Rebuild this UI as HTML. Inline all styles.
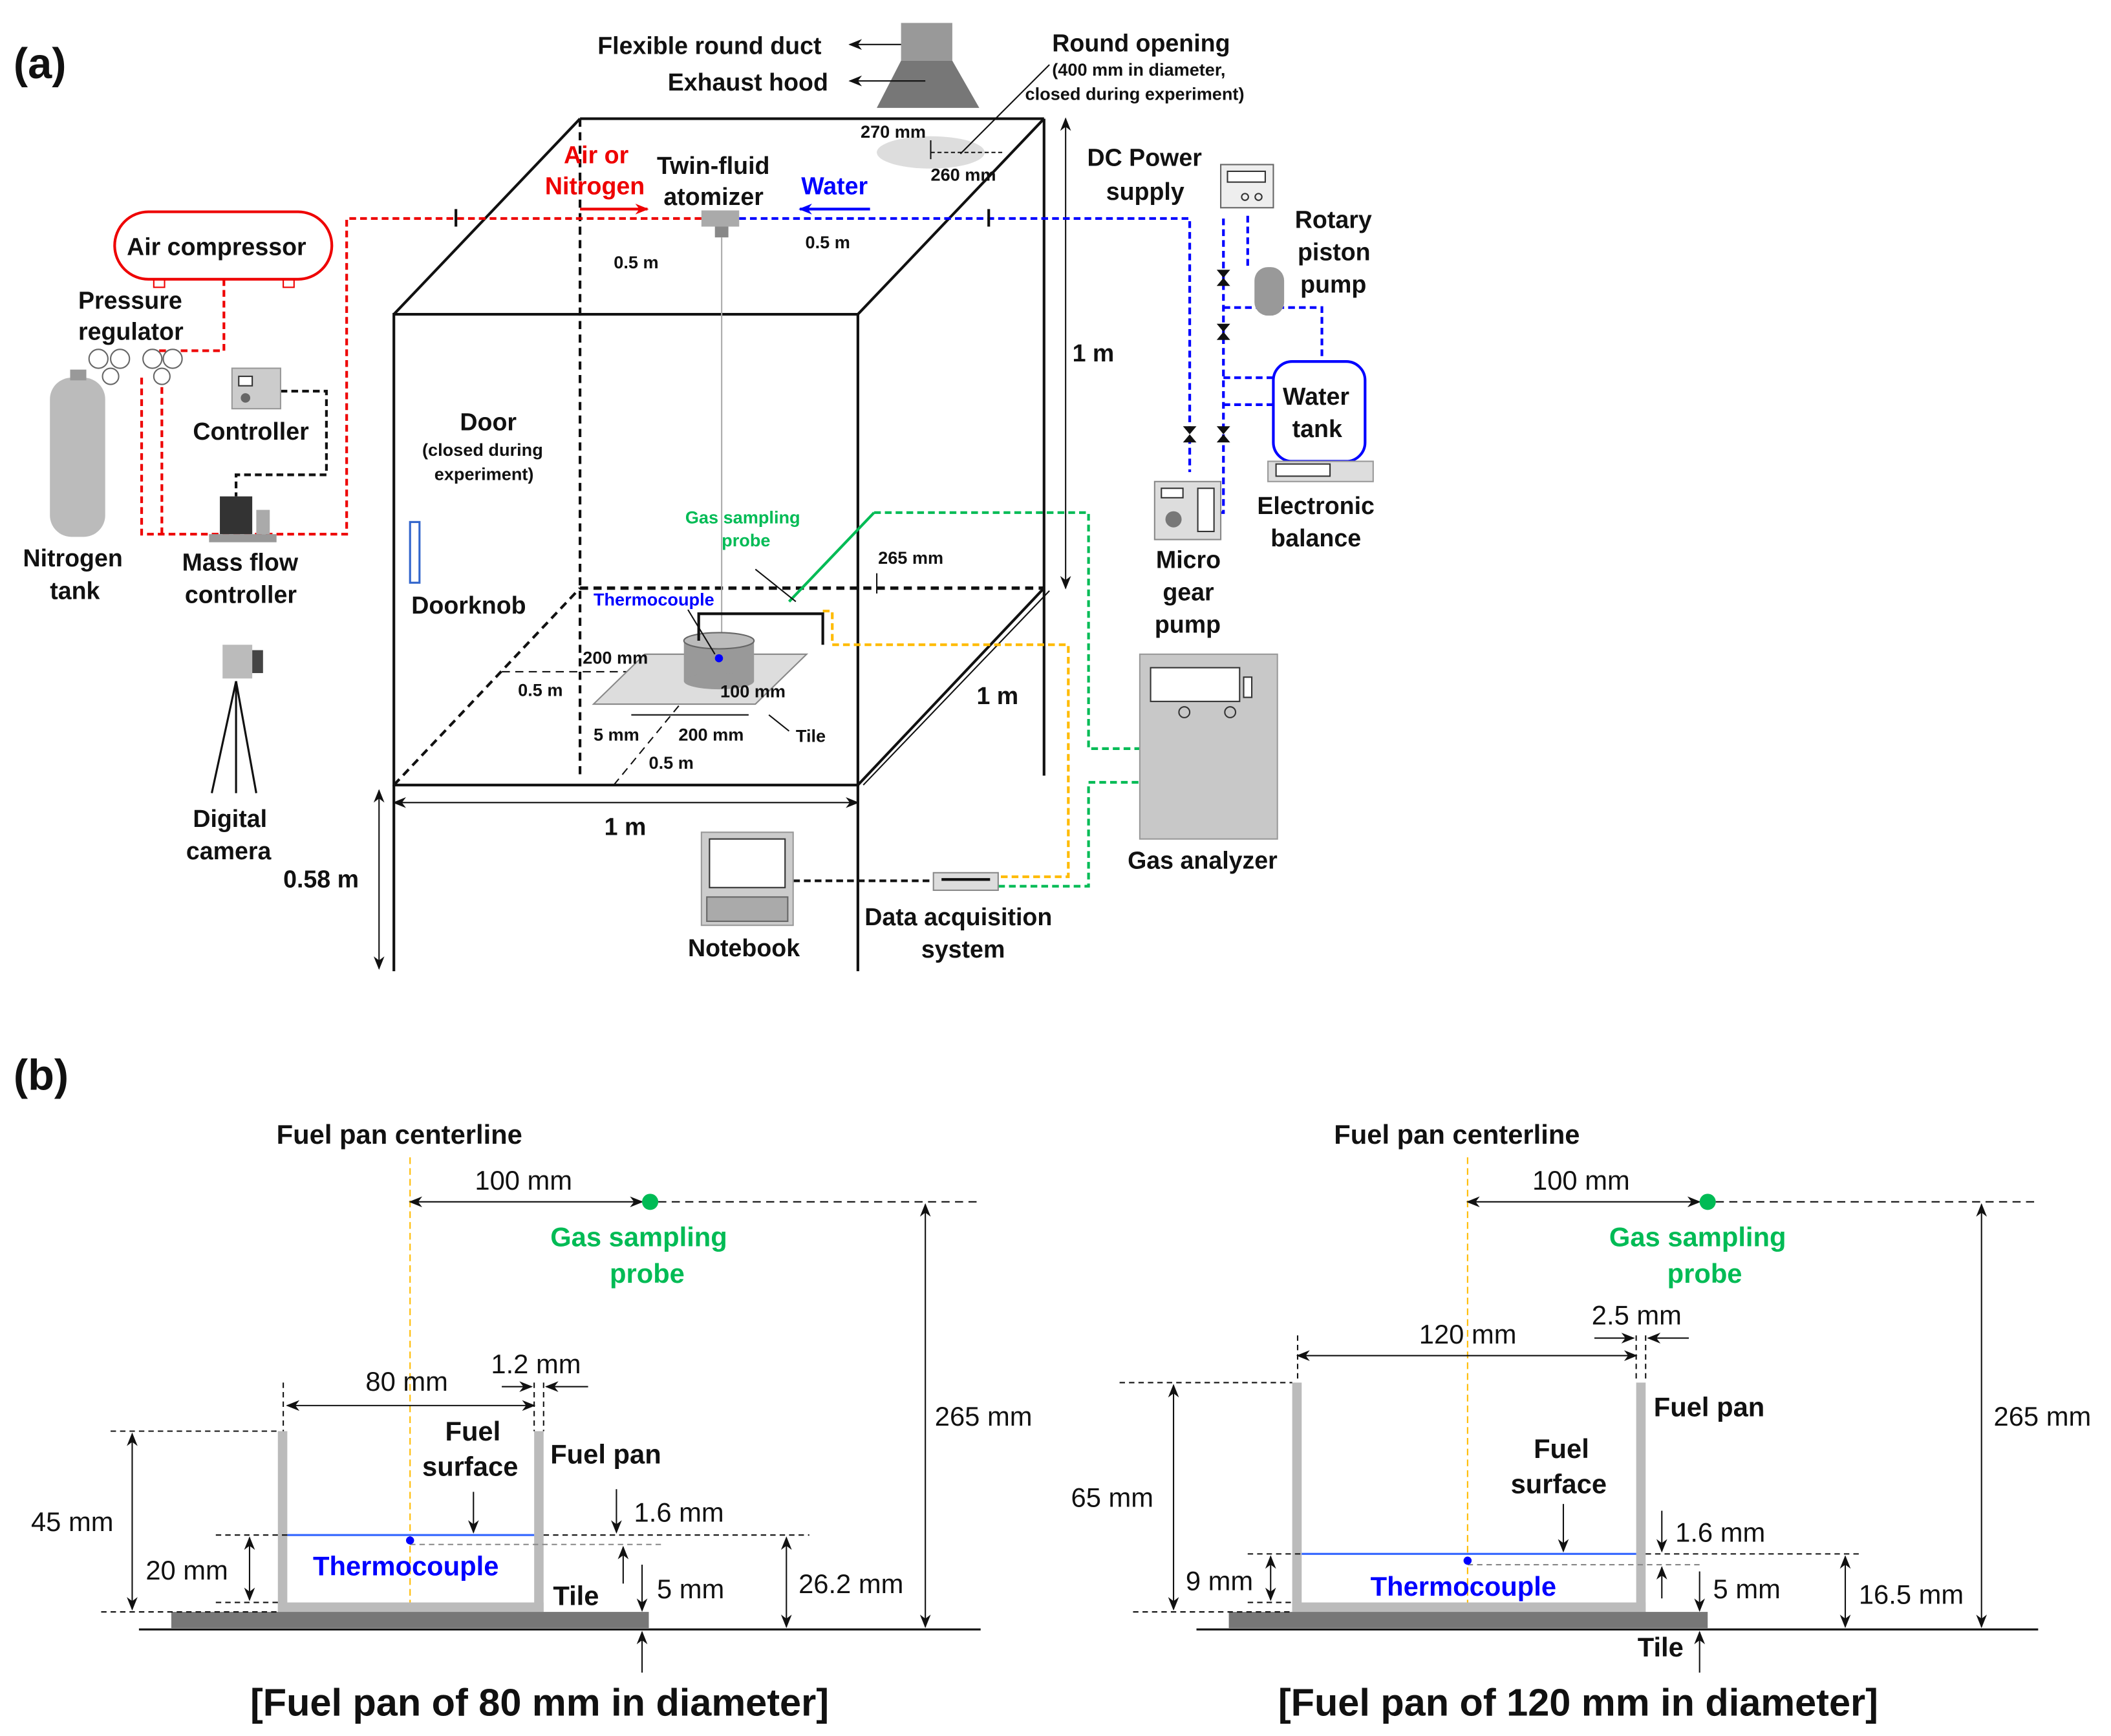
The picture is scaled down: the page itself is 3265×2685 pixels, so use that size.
<!DOCTYPE html>
<html><head><meta charset="utf-8"><style>
html,body{margin:0;padding:0;background:#fff}
svg{display:block}
text{font-family:"Liberation Sans",Arial,sans-serif;font-weight:bold;fill:#111}
.n{font-weight:normal}
</style></head><body>
<svg width="3265" height="2685" viewBox="0 0 1565 1287" preserveAspectRatio="none" xmlns="http://www.w3.org/2000/svg">
<defs>
<marker id="a" markerWidth="10" markerHeight="8" refX="9" refY="4" orient="auto-start-reverse" markerUnits="userSpaceOnUse"><path d="M0,0 L10,4 L0,8 L3,4z" fill="#111"/></marker>
<marker id="ar" markerWidth="10" markerHeight="8" refX="9" refY="4" orient="auto-start-reverse" markerUnits="userSpaceOnUse"><path d="M0,0 L10,4 L0,8 L3,4z" fill="#e00"/></marker>
<marker id="ab" markerWidth="10" markerHeight="8" refX="9" refY="4" orient="auto-start-reverse" markerUnits="userSpaceOnUse"><path d="M0,0 L10,4 L0,8 L3,4z" fill="#00f"/></marker>
</defs>
<rect width="1565" height="1287" fill="#fff"/>
<text x="10" y="58" font-size="32">(a)</text>
<text x="10" y="808" font-size="32">(b)</text>

<g stroke="#111" stroke-width="2" fill="none">
<rect x="292" y="233" width="344" height="349"/>
<line x1="430" y1="88" x2="774" y2="88"/>
<line x1="292" y1="233" x2="430" y2="88"/>
<line x1="636" y1="233" x2="774" y2="88"/>
<line x1="636" y1="582" x2="774" y2="436"/>
<line x1="640" y1="582" x2="778" y2="438" stroke-width="1"/>
<line x1="774" y1="88" x2="774" y2="575"/>
<line x1="636" y1="582" x2="636" y2="720"/>
<line x1="292" y1="582" x2="292" y2="720"/>
</g>
<g stroke="#111" stroke-width="2" stroke-dasharray="6,4" fill="none">
<line x1="430" y1="88" x2="430" y2="575"/>
<line x1="430" y1="436" x2="774" y2="436" stroke-width="2.5"/>
<line x1="292" y1="582" x2="430" y2="436"/>
<line x1="372" y1="498" x2="510" y2="498" stroke-width="1"/>
<line x1="455" y1="582" x2="510" y2="515" stroke-width="1"/>
</g>
<g stroke="#111" stroke-width="1" fill="none">
<line x1="790" y1="88" x2="790" y2="436" marker-start="url(#a)" marker-end="url(#a)"/>
<line x1="292" y1="595" x2="636" y2="595" marker-start="url(#a)" marker-end="url(#a)"/>
<line x1="281" y1="586" x2="281" y2="718" marker-start="url(#a)" marker-end="url(#a)"/>
<line x1="636" y1="436" x2="636" y2="445"/>
<line x1="650" y1="425" x2="650" y2="440"/>
</g>
<rect x="668" y="17" width="38" height="28" fill="#999"/>
<polygon points="668,45 706,45 726,80 650,80" fill="#777"/>
<line x1="668" y1="33" x2="630" y2="33" stroke="#111" marker-end="url(#a)"/>
<line x1="686" y1="60" x2="630" y2="60" stroke="#111" marker-end="url(#a)"/>
<text x="443" y="40" font-size="18">Flexible round duct</text>
<text x="495" y="67" font-size="18">Exhaust hood</text>
<ellipse cx="690" cy="113" rx="40" ry="12" fill="#ddd"/>
<line x1="778" y1="48" x2="712" y2="114" stroke="#111"/>
<line x1="690" y1="104" x2="690" y2="118" stroke="#111"/>
<line x1="690" y1="113" x2="745" y2="113" stroke="#111" stroke-dasharray="3,2"/>
<text x="780" y="38" font-size="18">Round opening</text>
<text x="780" y="56" font-size="13">(400 mm in diameter,</text>
<text x="760" y="74" font-size="13">closed during experiment)</text>
<text x="638" y="102" font-size="13">270 mm</text>
<text x="690" y="134" font-size="13">260 mm</text>

<rect x="520" y="156" width="28" height="12" fill="#aaa"/>
<rect x="530" y="168" width="10" height="8" fill="#888"/>
<line x1="535" y1="176" x2="535" y2="470" stroke="#aaa" stroke-width="1"/>
<g fill="none" stroke-width="2" stroke-dasharray="5,3">
<polyline points="520,162 257,162 257,396 105,396 105,280" stroke="#e00"/>
<polyline points="120,396 120,280" stroke="#e00"/>
<polyline points="166,207 166,260 110,260" stroke="#e00"/>
<polyline points="548,162 882,162 882,350" stroke="#00f"/>
<polyline points="907,162 907,380 890,380" stroke="#00f"/>
<polyline points="907,228 980,228 980,268" stroke="#00f"/>
<polyline points="907,300 944,300" stroke="#00f"/>
<polyline points="907,280 944,280" stroke="#00f"/>
<polyline points="925,160 925,200" stroke="#00f"/>
<polyline points="648,380 807,380 807,555 845,555" stroke="#0b5"/>
<polyline points="740,657 807,657 807,580 845,580" stroke="#0b5"/>
<polyline points="610,453 617,453 617,478 792,478 792,650 740,650" stroke="#fb0"/>
<polyline points="588,653 692,653" stroke="#111"/>
<polyline points="208,290 242,290 242,352 175,352 175,368" stroke="#111"/>
</g>
<line x1="585" y1="446" x2="648" y2="380" stroke="#0b5" stroke-width="2"/>
<line x1="338" y1="155" x2="338" y2="168" stroke="#111" stroke-width="2"/>
<line x1="733" y1="155" x2="733" y2="168" stroke="#111" stroke-width="2"/>
<g fill="#111"><path d="M902,200 l10,0 l-10,12 l10,0z"/><path d="M902,240 l10,0 l-10,12 l10,0z"/><path d="M877,316 l10,0 l-10,12 l10,0z"/><path d="M902,316 l10,0 l-10,12 l10,0z"/></g>
<line x1="430" y1="155" x2="480" y2="155" stroke="#e00" stroke-width="2" marker-end="url(#ar)"/>
<line x1="645" y1="155" x2="593" y2="155" stroke="#00f" stroke-width="2" marker-end="url(#ab)"/>
<text x="418" y="121" font-size="18" style="fill:#e00">Air or</text>
<text x="404" y="144" font-size="18" style="fill:#e00">Nitrogen</text>
<text x="487" y="129" font-size="18">Twin-fluid</text>
<text x="492" y="152" font-size="18">atomizer</text>
<text x="594" y="144" font-size="18" style="fill:#00f">Water</text>
<text x="597" y="184" font-size="13">0.5 m</text>
<text x="455" y="199" font-size="13">0.5 m</text>
<text x="795" y="268" font-size="18">1 m</text>
<text x="724" y="522" font-size="18">1 m</text>
<text x="448" y="619" font-size="18">1 m</text>
<text x="210" y="658" font-size="18">0.58 m</text>
<text x="341" y="319" font-size="18">Door</text>
<text x="313" y="338" font-size="13">(closed during</text>
<text x="322" y="356" font-size="13">experiment)</text>
<rect x="304" y="387" width="7" height="45" fill="none" stroke="#36c" stroke-width="1.5"/>
<text x="305" y="455" font-size="18">Doorknob</text>
<polygon points="478,485 598,485 560,522 440,522" fill="#ddd" stroke="#888"/>
<rect x="507" y="475" width="52" height="30" fill="#999"/>
<ellipse cx="533" cy="505" rx="26" ry="6" fill="#999"/>
<ellipse cx="533" cy="475" rx="26" ry="6" fill="#bbb" stroke="#666"/>
<circle cx="533" cy="488" r="3" fill="#00f"/>
<polyline points="518,475 518,455 610,455 610,478" fill="none" stroke="#111" stroke-width="2"/>
<line x1="560" y1="422" x2="590" y2="446" stroke="#111"/>
<line x1="510" y1="452" x2="530" y2="485" stroke="#111"/>
<text x="508" y="388" font-size="13" style="fill:#0b5">Gas sampling</text>
<text x="535" y="405" font-size="13" style="fill:#0b5">probe</text>
<text x="440" y="449" font-size="13" style="fill:#00f">Thermocouple</text>
<text x="651" y="418" font-size="13">265 mm</text>
<text x="432" y="492" font-size="13">200 mm</text>
<text x="384" y="516" font-size="13">0.5 m</text>
<text x="534" y="517" font-size="13">100 mm</text>
<text x="440" y="549" font-size="13">5 mm</text>
<text x="503" y="549" font-size="13">200 mm</text>
<text x="590" y="550" font-size="13">Tile</text>
<text x="481" y="570" font-size="13">0.5 m</text>
<line x1="468" y1="530" x2="555" y2="530" stroke="#111" stroke-width="1"/>
<line x1="570" y1="530" x2="585" y2="542" stroke="#111"/>
<rect x="85" y="157" width="161" height="50" rx="25" fill="none" stroke="#e00" stroke-width="2"/>
<text x="94" y="189" font-size="18">Air compressor</text>
<rect x="114" y="207" width="8" height="6" fill="none" stroke="#e00"/><rect x="210" y="207" width="8" height="6" fill="none" stroke="#e00"/>
<text x="58" y="229" font-size="18">Pressure</text>
<text x="58" y="252" font-size="18">regulator</text>
<g fill="#fff" stroke="#666"><circle cx="73" cy="266" r="7"/><circle cx="89" cy="266" r="7"/><circle cx="113" cy="266" r="7"/><circle cx="128" cy="266" r="7"/><circle cx="82" cy="279" r="6"/><circle cx="120" cy="279" r="6"/></g>
<rect x="37" y="280" width="41" height="118" rx="16" fill="#bbb"/>
<rect x="52" y="274" width="12" height="8" fill="#999"/>
<text x="17" y="420" font-size="18">Nitrogen</text>
<text x="37" y="444" font-size="18">tank</text>
<rect x="172" y="273" width="36" height="30" fill="#ccc" stroke="#999"/>
<rect x="177" y="279" width="10" height="7" fill="#fff" stroke="#333"/><circle cx="182" cy="295" r="3.5" fill="#666"/>
<text x="143" y="326" font-size="18">Controller</text>
<rect x="163" y="368" width="24" height="28" fill="#333"/>
<rect x="190" y="378" width="10" height="18" fill="#aaa"/>
<rect x="155" y="396" width="50" height="6" fill="#999"/>
<text x="135" y="423" font-size="18">Mass flow</text>
<text x="137" y="447" font-size="18">controller</text>
<rect x="165" y="478" width="22" height="25" fill="#bbb"/><rect x="187" y="482" width="8" height="17" fill="#444"/>
<g stroke="#111" stroke-width="1.5"><line x1="175" y1="505" x2="157" y2="588"/><line x1="175" y1="505" x2="175" y2="588"/><line x1="175" y1="505" x2="190" y2="588"/></g>
<text x="143" y="613" font-size="18">Digital</text>
<text x="138" y="637" font-size="18">camera</text>
<text x="806" y="123" font-size="18">DC Power</text>
<text x="820" y="148" font-size="18">supply</text>
<rect x="905" y="122" width="39" height="32" fill="#eee" stroke="#666"/>
<rect x="910" y="127" width="28" height="8" fill="#fff" stroke="#333"/>
<circle cx="923" cy="146" r="2.5" fill="none" stroke="#333"/><circle cx="933" cy="146" r="2.5" fill="none" stroke="#333"/>
<rect x="930" y="198" width="22" height="36" rx="10" fill="#999"/>
<text x="960" y="169" font-size="18">Rotary</text>
<text x="962" y="193" font-size="18">piston</text>
<text x="964" y="217" font-size="18">pump</text>
<rect x="944" y="268" width="68" height="74" rx="14" fill="#fff" stroke="#00f" stroke-width="2"/>
<text x="951" y="300" font-size="18">Water</text>
<text x="958" y="324" font-size="18">tank</text>
<rect x="940" y="342" width="78" height="15" fill="#ddd" stroke="#999"/>
<rect x="946" y="344" width="40" height="9" fill="#fff" stroke="#333"/>
<text x="932" y="381" font-size="18">Electronic</text>
<text x="942" y="405" font-size="18">balance</text>
<rect x="856" y="357" width="49" height="43" fill="#ddd" stroke="#888"/>
<rect x="861" y="362" width="16" height="7" fill="#fff" stroke="#333"/><circle cx="870" cy="385" r="6" fill="#777"/>
<rect x="888" y="362" width="12" height="32" fill="#fff" stroke="#333"/>
<text x="857" y="421" font-size="18">Micro</text>
<text x="862" y="445" font-size="18">gear</text>
<text x="856" y="469" font-size="18">pump</text>
<rect x="845" y="485" width="102" height="137" fill="#c8c8c8" stroke="#999"/>
<rect x="853" y="495" width="66" height="25" fill="#fff" stroke="#333"/><rect x="922" y="502" width="6" height="15" fill="#fff" stroke="#333"/>
<circle cx="878" cy="528" r="4" fill="none" stroke="#333"/><circle cx="912" cy="528" r="4" fill="none" stroke="#333"/>
<text x="836" y="644" font-size="18">Gas analyzer</text>
<rect x="520" y="617" width="68" height="69" fill="#ccc" stroke="#999"/>
<rect x="526" y="622" width="56" height="36" fill="#fff" stroke="#333"/>
<rect x="524" y="665" width="60" height="18" fill="#aaa" stroke="#666"/>
<text x="510" y="709" font-size="18">Notebook</text>
<rect x="692" y="647" width="48" height="13" fill="#ddd" stroke="#888"/><line x1="698" y1="652" x2="734" y2="652" stroke="#111" stroke-width="2"/>
<text x="641" y="686" font-size="18">Data acquisition</text>
<text x="683" y="710" font-size="18">system</text>

<text x="205" y="848" font-size="20">Fuel pan centerline</text>
<line x1="304" y1="858" x2="304" y2="1195" stroke="#fb0" stroke-dasharray="5,3"/>
<line x1="304" y1="891" x2="476" y2="891" stroke="#111" marker-start="url(#a)" marker-end="url(#a)"/>
<circle cx="482" cy="891" r="6" fill="#0b5"/>
<line x1="488" y1="891" x2="727" y2="891" stroke="#111" stroke-dasharray="6,4"/>
<text x="352" y="882" class="n" font-size="20">100 mm</text>
<text x="408" y="924" font-size="20" style="fill:#0b5">Gas sampling</text>
<text x="452" y="951" font-size="20" style="fill:#0b5">probe</text>
<line x1="686" y1="893" x2="686" y2="1206" stroke="#111" marker-start="url(#a)" marker-end="url(#a)"/>
<text x="693" y="1057" class="n" font-size="20">265 mm</text>
<rect x="206" y="1061" width="7" height="134" fill="#bbb"/>
<rect x="396" y="1061" width="7" height="134" fill="#bbb"/>
<rect x="206" y="1188" width="197" height="7" fill="#bbb"/>
<rect x="127" y="1195" width="354" height="12" fill="#777"/>
<line x1="103" y1="1208" x2="727" y2="1208" stroke="#111" stroke-width="1.5"/>
<line x1="213" y1="1138" x2="396" y2="1138" stroke="#36f" stroke-width="1.5"/>
<g stroke="#111" stroke-dasharray="4,3" fill="none">
<line x1="160" y1="1138" x2="213" y2="1138"/><line x1="403" y1="1138" x2="600" y2="1138"/>
<line x1="304" y1="1145" x2="490" y2="1145" stroke="#888"/>
<line x1="82" y1="1061" x2="206" y2="1061"/><line x1="160" y1="1188" x2="206" y2="1188"/><line x1="75" y1="1195" x2="206" y2="1195"/>
<line x1="210" y1="1025" x2="210" y2="1061"/><line x1="396" y1="1025" x2="396" y2="1061"/><line x1="403" y1="1025" x2="403" y2="1061"/>
</g>
<circle cx="304" cy="1142" r="3" fill="#00f"/>
<text x="232" y="1168" font-size="20" style="fill:#00f">Thermocouple</text>
<text x="330" y="1068" font-size="20">Fuel</text><text x="313" y="1094" font-size="20">surface</text>
<line x1="351" y1="1106" x2="351" y2="1136" stroke="#111" marker-end="url(#a)"/>
<text x="408" y="1085" font-size="20">Fuel pan</text>
<line x1="213" y1="1042" x2="396" y2="1042" stroke="#111" marker-start="url(#a)" marker-end="url(#a)"/>
<text x="271" y="1031" class="n" font-size="20">80 mm</text>
<text x="364" y="1018" class="n" font-size="20">1.2 mm</text>
<line x1="372" y1="1028" x2="394" y2="1028" stroke="#111" marker-end="url(#a)"/>
<line x1="436" y1="1028" x2="405" y2="1028" stroke="#111" marker-end="url(#a)"/>
<line x1="98" y1="1063" x2="98" y2="1193" stroke="#111" marker-start="url(#a)" marker-end="url(#a)"/>
<text x="23" y="1135" class="n" font-size="20">45 mm</text>
<line x1="185" y1="1140" x2="185" y2="1186" stroke="#111" marker-start="url(#a)" marker-end="url(#a)"/>
<text x="108" y="1171" class="n" font-size="20">20 mm</text>
<line x1="457" y1="1104" x2="457" y2="1136" stroke="#111" marker-end="url(#a)"/>
<text x="470" y="1128" class="n" font-size="20">1.6 mm</text>
<line x1="462" y1="1174" x2="462" y2="1147" stroke="#111" marker-end="url(#a)"/>
<line x1="476" y1="1160" x2="476" y2="1194" stroke="#111" marker-end="url(#a)"/>
<text x="487" y="1185" class="n" font-size="20">5 mm</text>
<text x="410" y="1190" font-size="20">Tile</text>
<line x1="476" y1="1240" x2="476" y2="1210" stroke="#111" marker-end="url(#a)"/>
<line x1="583" y1="1140" x2="583" y2="1206" stroke="#111" marker-start="url(#a)" marker-end="url(#a)"/>
<text x="592" y="1181" class="n" font-size="20">26.2 mm</text>
<text x="400" y="1272" font-size="28.5" text-anchor="middle">[Fuel pan of 80 mm in diameter]</text>

<text x="989" y="848" font-size="20">Fuel pan centerline</text>
<line x1="1088" y1="858" x2="1088" y2="1195" stroke="#fb0" stroke-dasharray="5,3"/>
<line x1="1088" y1="891" x2="1260" y2="891" stroke="#111" marker-start="url(#a)" marker-end="url(#a)"/>
<circle cx="1266" cy="891" r="6" fill="#0b5"/>
<line x1="1272" y1="891" x2="1511" y2="891" stroke="#111" stroke-dasharray="6,4"/>
<text x="1136" y="882" class="n" font-size="20">100 mm</text>
<text x="1193" y="924" font-size="20" style="fill:#0b5">Gas sampling</text>
<text x="1236" y="951" font-size="20" style="fill:#0b5">probe</text>
<line x1="1469" y1="893" x2="1469" y2="1206" stroke="#111" marker-start="url(#a)" marker-end="url(#a)"/>
<text x="1478" y="1057" class="n" font-size="20">265 mm</text>
<rect x="958" y="1025" width="7" height="170" fill="#bbb"/>
<rect x="1213" y="1025" width="7" height="170" fill="#bbb"/>
<rect x="958" y="1188" width="262" height="7" fill="#bbb"/>
<rect x="911" y="1195" width="355" height="12" fill="#777"/>
<line x1="887" y1="1208" x2="1511" y2="1208" stroke="#111" stroke-width="1.5"/>
<line x1="965" y1="1152" x2="1213" y2="1152" stroke="#36f" stroke-width="1.5"/>
<g stroke="#111" stroke-dasharray="4,3" fill="none">
<line x1="925" y1="1152" x2="965" y2="1152"/><line x1="1220" y1="1152" x2="1380" y2="1152"/>
<line x1="1088" y1="1160" x2="1262" y2="1160" stroke="#888"/>
<line x1="830" y1="1025" x2="958" y2="1025"/><line x1="925" y1="1188" x2="958" y2="1188"/><line x1="840" y1="1195" x2="958" y2="1195"/>
<line x1="962" y1="990" x2="962" y2="1025"/><line x1="1213" y1="990" x2="1213" y2="1025"/><line x1="1220" y1="990" x2="1220" y2="1025"/>
</g>
<circle cx="1088" cy="1157" r="3" fill="#00f"/>
<text x="1016" y="1183" font-size="20" style="fill:#00f">Thermocouple</text>
<text x="1137" y="1081" font-size="20">Fuel</text><text x="1120" y="1107" font-size="20">surface</text>
<line x1="1159" y1="1115" x2="1159" y2="1150" stroke="#111" marker-end="url(#a)"/>
<text x="1226" y="1050" font-size="20">Fuel pan</text>
<line x1="962" y1="1005" x2="1213" y2="1005" stroke="#111" marker-start="url(#a)" marker-end="url(#a)"/>
<text x="1052" y="996" class="n" font-size="20">120 mm</text>
<text x="1180" y="982" class="n" font-size="20">2.5 mm</text>
<line x1="1182" y1="992" x2="1211" y2="992" stroke="#111" marker-end="url(#a)"/>
<line x1="1252" y1="992" x2="1222" y2="992" stroke="#111" marker-end="url(#a)"/>
<line x1="870" y1="1027" x2="870" y2="1193" stroke="#111" marker-start="url(#a)" marker-end="url(#a)"/>
<text x="794" y="1117" class="n" font-size="20">65 mm</text>
<line x1="942" y1="1154" x2="942" y2="1186" stroke="#111" marker-start="url(#a)" marker-end="url(#a)"/>
<text x="879" y="1179" class="n" font-size="20">9 mm</text>
<line x1="1232" y1="1120" x2="1232" y2="1150" stroke="#111" marker-end="url(#a)"/>
<text x="1242" y="1143" class="n" font-size="20">1.6 mm</text>
<line x1="1232" y1="1185" x2="1232" y2="1162" stroke="#111" marker-end="url(#a)"/>
<line x1="1260" y1="1165" x2="1260" y2="1194" stroke="#111" marker-end="url(#a)"/>
<text x="1270" y="1185" class="n" font-size="20">5 mm</text>
<line x1="1368" y1="1154" x2="1368" y2="1206" stroke="#111" marker-start="url(#a)" marker-end="url(#a)"/>
<text x="1378" y="1189" class="n" font-size="20">16.5 mm</text>
<text x="1214" y="1228" font-size="20">Tile</text>
<line x1="1260" y1="1240" x2="1260" y2="1210" stroke="#111" marker-end="url(#a)"/>
<text x="1170" y="1272" font-size="28.5" text-anchor="middle">[Fuel pan of 120 mm in diameter]</text>
</svg>
</body></html>
